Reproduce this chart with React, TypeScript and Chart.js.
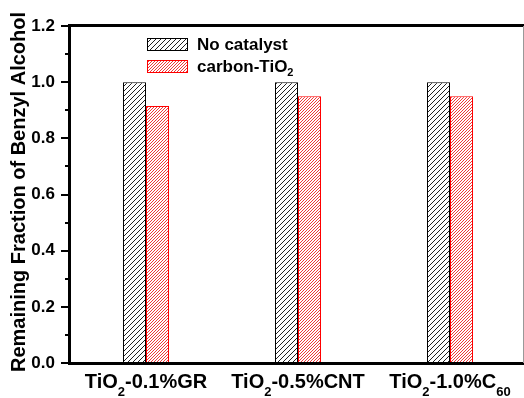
import React, { useEffect, useRef } from 'react';
import { Chart, registerables } from 'chart.js';
Chart.register(...registerables);

const categories = ['TiO₂-0.1%GR', 'TiO₂-0.5%CNT', 'TiO₂-1.0%C₆₀'];
const seriesNames = ['No catalyst', 'carbon-TiO₂'];
const noCatalyst = [1.0, 1.0, 1.0];
const carbonTiO2 = [0.915, 0.95, 0.95];
const yMajorTicks = [0, 0.2, 0.4, 0.6, 0.8, 1.0, 1.2];
const yMinorTicks = [0.1, 0.3, 0.5, 0.7, 0.9, 1.1];
const yTitle = 'Remaining Fraction of Benzyl Alcohol';

const FONT = '"Liberation Sans", Arial, Helvetica, sans-serif';
const SUB = '₀₁₂₃₄₅₆₇₈₉';

type Seg = { t: string; sub: boolean };
function segments(s: string): Seg[] {
  const out: Seg[] = [];
  for (const ch of s) {
    const i = SUB.indexOf(ch);
    const sub = i >= 0;
    const c = sub ? String(i) : ch;
    if (out.length && out[out.length - 1].sub === sub) out[out.length - 1].t += c;
    else out.push({ t: c, sub });
  }
  return out;
}

function drawRich(
  ctx: CanvasRenderingContext2D,
  s: string,
  x: number,
  y: number,
  size: number,
  subSize: number,
  subOffset: number,
  align: 'left' | 'center',
  color: string
) {
  const segs = segments(s);
  const fN = `bold ${size}px ${FONT}`;
  const fS = `bold ${subSize}px ${FONT}`;
  let w = 0;
  const widths = segs.map((sg) => {
    ctx.font = sg.sub ? fS : fN;
    const m = ctx.measureText(sg.t).width;
    w += m;
    return m;
  });
  let cx = align === 'center' ? x - w / 2 : x;
  ctx.save();
  ctx.fillStyle = color;
  ctx.textAlign = 'left';
  ctx.textBaseline = 'alphabetic';
  segs.forEach((sg, i) => {
    ctx.font = sg.sub ? fS : fN;
    ctx.fillText(sg.t, cx, sg.sub ? y + subOffset : y);
    cx += widths[i];
  });
  ctx.restore();
}

function makeHatch(size: number, color: string, lw: number): CanvasPattern | string {
  const c = document.createElement('canvas');
  c.width = size;
  c.height = size;
  const g = c.getContext('2d');
  if (!g) return 'white';
  g.fillStyle = 'white';
  g.fillRect(0, 0, size, size);
  g.strokeStyle = color;
  g.lineWidth = lw;
  g.beginPath();
  g.moveTo(0, size);
  g.lineTo(size, 0);
  g.moveTo(-size / 2, size / 2);
  g.lineTo(size / 2, -size / 2);
  g.moveTo(size / 2, size * 1.5);
  g.lineTo(size * 1.5, size / 2);
  g.stroke();
  const p = g.createPattern(c, 'repeat');
  return p || 'white';
}

export default function App() {
  const ref = useRef<HTMLCanvasElement | null>(null);

  useEffect(() => {
    const canvas = ref.current;
    if (!canvas) return;
    const blackHatch = makeHatch(5, '#222', 1);
    const redHatch = makeHatch(3, '#ee3a3a', 1);
    const fills = [blackHatch, redHatch];
    const borders = ['#000000', '#ff0000'];

    const decor = {
      id: 'decor',
      afterDraw(chart: any) {
        const { ctx, chartArea, scales } = chart;
        const y = scales.y;
        const x = scales.x;
        const L = Math.round(chartArea.left);
        const T = Math.round(chartArea.top);
        const B = Math.round(chartArea.bottom);
        const R = Math.round(chartArea.right);
        ctx.save();
        ctx.fillStyle = '#000000';
        // frame: top, bottom, left
        ctx.fillRect(L - 2, T - 2, R - L + 4, 3);
        ctx.fillRect(L - 2, B - 1, R - L + 4, 3);
        ctx.fillRect(L - 2, T - 2, 3, B - T + 4);
        ctx.fillStyle = '#999999';
        ctx.fillRect(R - 3, T, 2, B - T);
        // ticks
        ctx.fillStyle = '#000000';
        yMajorTicks.forEach((v) => {
          const py = Math.round(y.getPixelForValue(v));
          ctx.fillRect(L - 9, py - 1, 8, 2);
        });
        yMinorTicks.forEach((v) => {
          const py = Math.round(y.getPixelForValue(v));
          ctx.fillRect(L - 5, py - 1, 4, 2);
        });
        // x labels
        categories.forEach((lab, i) => {
          const px = x.getPixelForValue(i);
          drawRich(ctx, lab, px, 388, 20, 13, 8, 'center', '#000');
        });
        // y title
        ctx.save();
        ctx.translate(19, 192);
        ctx.rotate(-Math.PI / 2);
        ctx.font = `bold 20px ${FONT}`;
        ctx.fillStyle = '#000';
        ctx.textAlign = 'center';
        ctx.textBaseline = 'middle';
        ctx.fillText(yTitle, 0, 0);
        ctx.restore();
        // legend
        const rows = [44, 66];
        seriesNames.forEach((name, i) => {
          const cy = rows[i];
          ctx.fillStyle = fills[i] as any;
          ctx.fillRect(147, cy - 6, 41, 12);
          ctx.strokeStyle = borders[i];
          ctx.lineWidth = 1;
          ctx.strokeRect(147.5, cy - 6 + 0.5, 40, 12);
          drawRich(ctx, name, 197, cy + 6, 17, 11, 4, 'left', '#000');
        });
        ctx.restore();
      },
    };

    const chart = new Chart(canvas, {
      type: 'bar',
      data: {
        labels: categories,
        datasets: [
          {
            label: seriesNames[0],
            data: noCatalyst,
            backgroundColor: blackHatch as any,
            borderColor: borders[0],
            borderWidth: 1,
            barPercentage: 1,
            categoryPercentage: 46 / 152,
          },
          {
            label: seriesNames[1],
            data: carbonTiO2,
            backgroundColor: redHatch as any,
            borderColor: borders[1],
            borderWidth: 1,
            barPercentage: 1,
            categoryPercentage: 46 / 152,
          },
        ],
      },
      options: {
        responsive: false,
        animation: false,
        devicePixelRatio: 1,
        layout: { padding: { top: 26, right: 14, left: 0, bottom: 0 } },
        plugins: {
          legend: { display: false },
          tooltip: { enabled: false },
          title: { display: false },
        },
        events: [],
        scales: {
          x: {
            grid: { display: false, drawTicks: false },
            border: { display: false },
            ticks: { display: false },
            afterFit: (s: any) => {
              s.height = 35;
            },
          },
          y: {
            min: 0,
            max: 1.2,
            grid: { display: false, drawTicks: false },
            border: { display: false },
            ticks: {
              stepSize: 0.2,
              padding: 15,
              color: '#000',
              font: { family: FONT, size: 17, weight: 'bold' },
              callback: (v: any) => Number(v).toFixed(1),
            },
            afterFit: (s: any) => {
              s.width = 70;
            },
          },
        },
      },
      plugins: [decor],
    });
    return () => chart.destroy();
  }, []);

  return (
    <div
      style={{
        position: 'fixed',
        left: 0,
        top: 0,
        width: 524,
        height: 398,
        overflow: 'hidden',
        background: '#fff',
      }}
    >
      <canvas ref={ref} width={540} height={398} style={{ display: 'block' }} />
    </div>
  );
}
